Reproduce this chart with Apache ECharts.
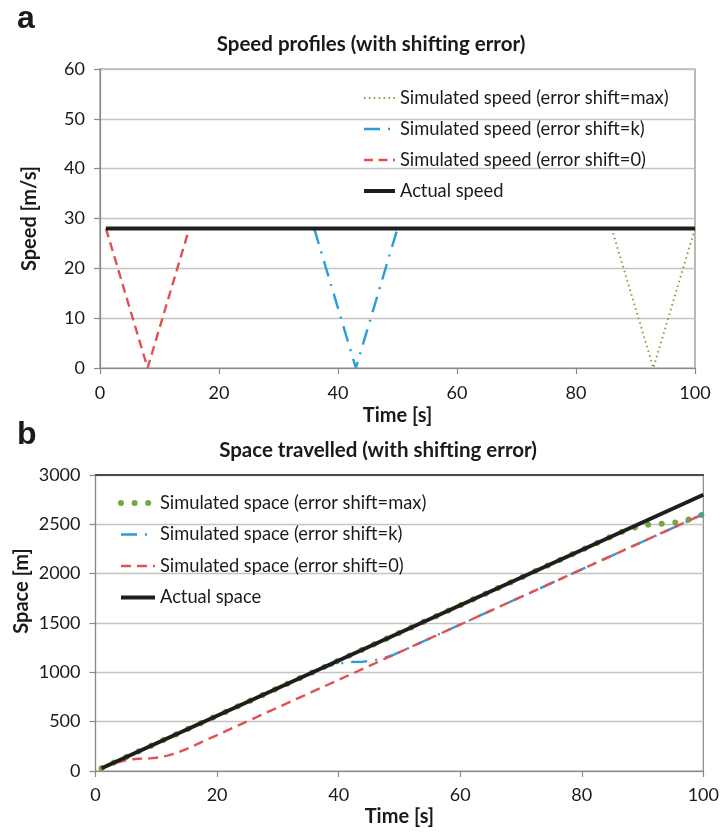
<!DOCTYPE html>
<html><head><meta charset="utf-8">
<script src="https://cdn.jsdelivr.net/npm/echarts@6/dist/echarts.min.js"></script>
<style>html,body{margin:0;padding:0;background:#fff}#c{width:722px;height:835px}</style>
</head><body><div id="c"></div>
<script>
// ---- Data ----
const xTicks = [0, 20, 40, 60, 80, 100];
const speedTicks = [0, 10, 20, 30, 40, 50, 60];
const spaceTicks = [0, 500, 1000, 1500, 2000, 2500, 3000];

const speedNames = ['Simulated speed (error shift=max)', 'Simulated speed (error shift=k)', 'Simulated speed (error shift=0)', 'Actual speed'];
const spaceNames = ['Simulated space (error shift=max)', 'Simulated space (error shift=k)', 'Simulated space (error shift=0)', 'Actual space'];

// Speed profiles [m/s]
const actualSpeedT = [1, 100];
const actualSpeedV = [28, 28];
const simSpeed0T = [1, 8, 15];
const simSpeed0V = [28, 0, 28];
const simSpeedKT = [36, 43, 50];
const simSpeedKV = [28, 0, 28];
const simSpeedMaxT = [86, 93, 100];
const simSpeedMaxV = [28, 0, 28];

// Space travelled [m]
const actualSpaceT = [1, 100];
const actualSpaceV = [28, 2800];
const simSpace0T = [1, 2, 3, 4, 5, 6, 7, 8, 9, 10, 11, 12, 13, 14, 15, 100];
const simSpace0V = [28, 54, 76, 94, 108, 118, 124, 126, 128, 134, 144, 158, 176, 198, 224, 2604];
const simSpaceKT = [1, 36, 37, 38, 39, 40, 41, 42, 43, 44, 45, 46, 47, 48, 49, 50, 100];
const simSpaceKV = [28, 1008, 1034, 1056, 1074, 1088, 1098, 1104, 1106, 1108, 1114, 1124, 1138, 1156, 1178, 1204, 2604];
const simSpaceMaxT = [1, 86, 87, 88, 89, 90, 91, 92, 93, 94, 95, 96, 97, 98, 99, 100];
const simSpaceMaxV = [28, 2408, 2434, 2456, 2474, 2488, 2498, 2504, 2506, 2508, 2514, 2524, 2538, 2556, 2578, 2604];

// ---- Styles ----
const FONT = 'Lato';
const C_GREEN = '#76A544', C_BLUE = '#2A9DD8', C_RED = '#E05252', C_BLACK = '#1e1e1e';
const AX = '#8a8a8a', GRID = '#c4c4c4', TXT = '#1a1a1a';

const LS = {
  spMax: {color: C_GREEN, width: 2, type: [1.5, 3.4]},
  spK: {color: C_BLUE, width: 2.4, type: [16, 8, 2, 8]},
  sp0: {color: C_RED, width: 2.4, type: [9, 5.5]},
  spAct: {color: C_BLACK, width: 4},
  saMax: {color: C_GREEN, width: 6, type: [0.01, 13.6], cap: 'round'},
  saK: {color: C_BLUE, width: 2.4, type: [16, 8, 2, 8]},
  sa0: {color: C_RED, width: 2.4, type: [10, 6]},
  saAct: {color: C_BLACK, width: 4}
};

const pairs = (T, V) => T.map((t, i) => [t, V[i]]);
const step = a => a[1] - a[0];

function xAxisFor(gi, margin, gap) {
  return {
    gridIndex: gi, type: 'value', min: xTicks[0], max: xTicks[xTicks.length - 1], interval: step(xTicks),
    axisLine: {show: true, lineStyle: {color: AX, width: 1.2}},
    axisTick: {show: true, length: 6, lineStyle: {color: AX, width: 1.2}},
    axisLabel: {fontSize: 18, color: TXT, margin: margin, fontFamily: FONT},
    splitLine: {show: false},
    name: 'Time [s]', nameLocation: 'middle', nameGap: gap,
    nameTextStyle: {fontWeight: 'bold', fontSize: 20, color: TXT, fontFamily: FONT}
  };
}
function yAxisFor(gi, ticks, name, gap) {
  return {
    gridIndex: gi, type: 'value', min: ticks[0], max: ticks[ticks.length - 1], interval: step(ticks),
    axisLine: {show: true, lineStyle: {color: AX, width: 1.2}},
    axisTick: {show: true, length: 6, lineStyle: {color: AX, width: 1.2}},
    axisLabel: {fontSize: 18, color: TXT, margin: 15, fontFamily: FONT, formatter: v => String(v)},
    splitLine: {show: true, lineStyle: {color: GRID, width: 1.3}},
    name: name, nameLocation: 'middle', nameGap: gap, nameRotate: 90,
    nameTextStyle: {fontWeight: 'bold', fontSize: 20, color: TXT, fontFamily: FONT}
  };
}
function line(name, xi, data, ls) {
  return {name, type: 'line', xAxisIndex: xi, yAxisIndex: xi, data, symbol: 'none',
    lineStyle: ls, itemStyle: {color: ls.color}, z: 3, animation: false};
}
function legendFor(names, styles, left, top, w, gap) {
  return {data: names.map((n, i) => ({name: n, lineStyle: styles[i], itemStyle: {opacity: 0}})),
    left: left, top: top, orient: 'vertical', padding: 0, itemWidth: w, itemHeight: 14, itemGap: gap,
    itemStyle: {opacity: 0},
    textStyle: {fontSize: 18.3, lineHeight: 16, color: TXT, fontFamily: FONT}};
}

const option = {
  backgroundColor: '#fff',
  animation: false,
  title: [
    {text: 'a', left: 12, top: -2, textStyle: {fontSize: 32, fontWeight: 'bold', color: TXT, fontFamily: 'Liberation Sans'}},
    {text: 'Speed profiles (with shifting error)', left: 366, top: 29, textAlign: 'center',
      textStyle: {fontSize: 20.5, fontWeight: 'bold', color: TXT, fontFamily: FONT}},
    {text: 'b', left: 12, top: 414, textStyle: {fontSize: 32, fontWeight: 'bold', color: TXT, fontFamily: 'Liberation Sans'}},
    {text: 'Space travelled (with shifting error)', left: 373, top: 435, textAlign: 'center',
      textStyle: {fontSize: 20.5, fontWeight: 'bold', color: TXT, fontFamily: FONT}}
  ],
  graphic: [
    {type: 'text', x: 22, y: 591, rotation: Math.PI / 2, z: 10,
      style: {text: 'Space [m]', fontSize: 20, fontWeight: 'bold', fontFamily: FONT, fill: TXT,
        align: 'center', verticalAlign: 'middle'}}
  ],
  grid: [
    {left: 100, top: 69, width: 595, height: 299, show: true, borderColor: AX, borderWidth: 1.2},
    {left: 95.5, top: 475, width: 610.5, height: 296, show: true, borderColor: AX, borderWidth: 1.2}
  ],
  xAxis: [
    xAxisFor(0, 16, 38), xAxisFor(1, 15, 36),
    {gridIndex: 1, type: 'value', position: 'top', min: 0, max: 100,
      axisLine: {show: true, lineStyle: {color: '#222', width: 1.5}}, axisTick: {show: false},
      axisLabel: {show: false}, splitLine: {show: false}}
  ],
  yAxis: [
    yAxisFor(0, speedTicks, 'Speed [m/s]', 60),
    yAxisFor(1, spaceTicks, '', 55)
  ],
  legend: [
    legendFor(speedNames, [LS.spMax, LS.spK, LS.sp0, LS.spAct], 362, 89, 31, 13),
    legendFor(spaceNames, [LS.saMax, LS.saK, LS.sa0, LS.saAct], 118, 494, 34, 13.5)
  ],
  series: [
    line(speedNames[0], 0, pairs(simSpeedMaxT, simSpeedMaxV), LS.spMax),
    line(speedNames[1], 0, pairs(simSpeedKT, simSpeedKV), LS.spK),
    line(speedNames[2], 0, pairs(simSpeed0T, simSpeed0V), LS.sp0),
    line(speedNames[3], 0, pairs(actualSpeedT, actualSpeedV), LS.spAct),
    line(spaceNames[0], 1, pairs(simSpaceMaxT, simSpaceMaxV), LS.saMax),
    line(spaceNames[1], 1, pairs(simSpaceKT, simSpaceKV), LS.saK),
    line(spaceNames[2], 1, pairs(simSpace0T, simSpace0V), LS.sa0),
    line(spaceNames[3], 1, pairs(actualSpaceT, actualSpaceV), LS.saAct)
  ]
};
const chart = echarts.init(document.getElementById('c'), null, {renderer: 'canvas'});
chart.setOption(option);
</script></body></html>
